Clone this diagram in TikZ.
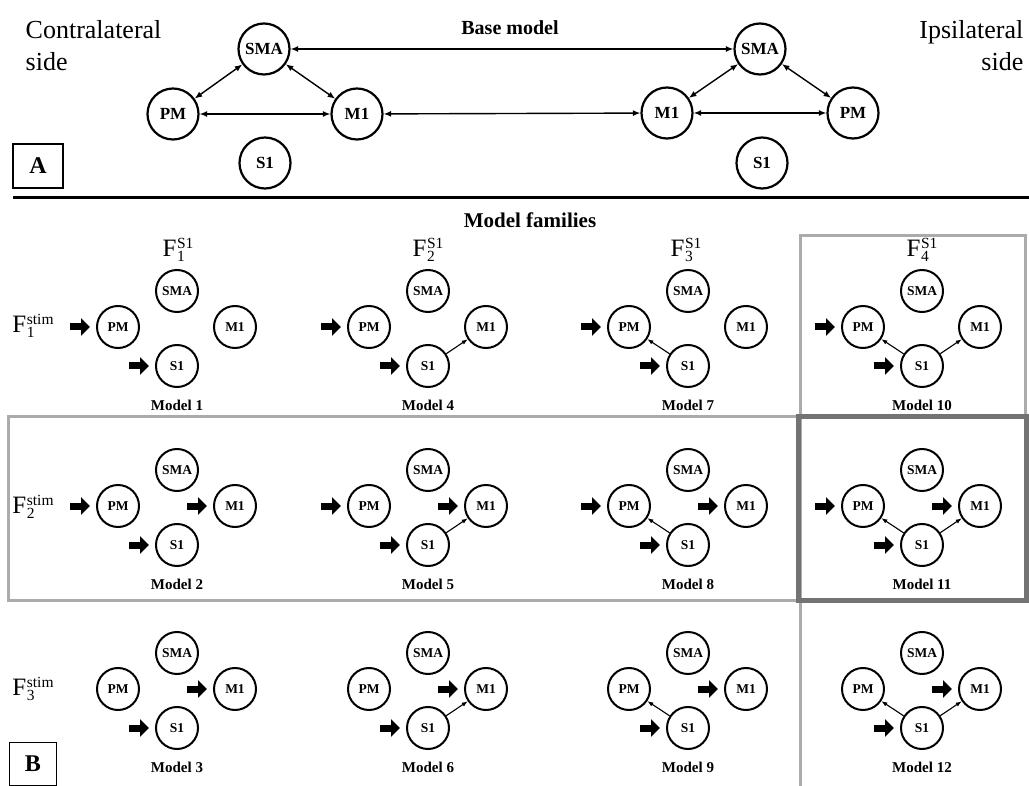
\documentclass[tikz,border=0pt]{standalone}
\usepackage{fontspec}
\setmainfont{Liberation Serif}
\usetikzlibrary{arrows.meta}

\tikzset{every picture/.style={line width=0.75pt}}
\tikzset{
  bigarea/.style={circle,draw,line width=2.2pt,minimum size=51pt,inner sep=0pt,font=\fontsize{17}{19}\selectfont\bfseries},
  smallarea/.style={circle,draw,line width=2pt,minimum size=42pt,inner sep=0pt,font=\fontsize{13.5}{15}\selectfont\bfseries},
  modellabel/.style={font=\fontsize{15}{17}\selectfont\bfseries},
  familylabel/.style={font=\fontsize{25}{27}\selectfont,inner sep=1pt},
  stimarrow/.style={line width=7pt,-{Triangle[length=9pt,width=17pt]}},
  coupling/.style={line width=1.1pt,-{Latex[length=6pt,width=4.5pt]}},
  bigcoupling/.style={line width=1.4pt,{Latex[length=7.5pt,width=6pt]}-{Latex[length=7.5pt,width=6pt]}},
  panelbox/.style={draw,line width=1.2pt,inner sep=0pt,font=\fontsize{24}{26}\selectfont\bfseries},
  lightframe/.style={draw=black!33,line width=3pt},
  darkframe/.style={draw=black!55,line width=5pt},
}

% family name: F with a stacked upper and lower index
\newcommand{\famname}[2]{F\kern0.6pt\raisebox{-5pt}{\fontsize{15.5}{12}\selectfont\shortstack[l]{#2\\#1}}}

% one model: SMA, PM, M1, S1 and its name below
\newcommand{\modelcell}[4]{%
  \node[smallarea] (#1sma) at (#2,#3) {SMA};
  \node[smallarea] (#1pm) at (#2-59,#3+36) {PM};
  \node[smallarea] (#1mone) at (#2+58,#3+36) {M1};
  \node[smallarea] (#1sone) at (#2,#3+75) {S1};
  \node[modellabel] (#1lab) at (#2,#3+114) {#4};
}
\newcommand{\stimto}[1]{\draw[stimarrow] ([xshift=-26pt]#1.west) -- ([xshift=-6pt]#1.west);}

\begin{document}
\begin{tikzpicture}[x=1pt,y=1pt,yscale=-1,xscale=1]
\useasboundingbox (0,0) rectangle (1029,786);

%Frames
\draw[lightframe] (8,417) rectangle (798,600);
\draw[lightframe] (800,786) -- (800,236) -- (1025,236) -- (1025,417);
\draw[darkframe] (798,417) rectangle (1026,600);

% Text Node
\node[anchor=west,align=left,font=\fontsize{26}{32}\selectfont] (contra) at (22,46) {Contralateral\\side};
% Text Node
\node[anchor=east,align=right,font=\fontsize{26}{32}\selectfont] (ipsi) at (1027,46) {Ipsilateral\\side};
% Text Node
\node[font=\fontsize{20}{22}\selectfont\bfseries] (basetitle) at (510,28) {Base model};
\node[panelbox,minimum width=50pt,minimum height=44pt] (panela) at (38,166) {A};

%Base model, contralateral
\node[bigarea] (lsma) at (264,49) {SMA};
\node[bigarea] (lpm) at (173,114) {PM};
\node[bigarea] (lmone) at (357,114) {M1};
\node[bigarea] (lsone) at (265,163) {S1};
%Base model, ipsilateral
\node[bigarea] (rsma) at (760,49) {SMA};
\node[bigarea] (rmone) at (667,113) {M1};
\node[bigarea] (rpm) at (853,113) {PM};
\node[bigarea] (rsone) at (762,163) {S1};

\draw[bigcoupling] (lsma) -- (rsma);
\draw[bigcoupling] (lmone) -- (rmone);
\draw[bigcoupling] (lpm) -- (lmone);
\draw[bigcoupling] (lsma) -- (lpm);
\draw[bigcoupling] (lsma) -- (lmone);
\draw[bigcoupling] (rmone) -- (rpm);
\draw[bigcoupling] (rsma) -- (rmone);
\draw[bigcoupling] (rsma) -- (rpm);

%Straight Lines
\draw[line width=3pt] (13,198) -- (1029,198);

% Text Node
\node[font=\fontsize{21}{23}\selectfont\bfseries] (famtitle) at (530,220) {Model families};
\node[familylabel] (fsone1) at (178,250) {\famname{1}{S1}};
\node[familylabel] (fsone2) at (428,250) {\famname{2}{S1}};
\node[familylabel] (fsone3) at (686,250) {\famname{3}{S1}};
\node[familylabel] (fsone4) at (922,250) {\famname{4}{S1}};
\node[familylabel,anchor=west] (fstim1) at (11,326) {\famname{1}{stim}};
\node[familylabel,anchor=west] (fstim2) at (11,507) {\famname{2}{stim}};
\node[familylabel,anchor=west] (fstim3) at (11,689) {\famname{3}{stim}};
\node[panelbox,minimum width=47pt,minimum height=43pt] (panelb) at (33,764) {B};

%Models
\modelcell{m1}{177}{291}{Model 1}
\modelcell{m2}{177}{470}{Model 2}
\modelcell{m3}{177}{653}{Model 3}
\modelcell{m4}{428}{291}{Model 4}
\modelcell{m5}{428}{470}{Model 5}
\modelcell{m6}{428}{653}{Model 6}
\modelcell{m7}{688}{291}{Model 7}
\modelcell{m8}{688}{470}{Model 8}
\modelcell{m9}{688}{653}{Model 9}
\modelcell{m10}{922}{291}{Model 10}
\modelcell{m11}{922}{470}{Model 11}
\modelcell{m12}{922}{653}{Model 12}

%Inputs
\stimto{m1pm} \stimto{m1sone}
\stimto{m4pm} \stimto{m4sone}
\stimto{m7pm} \stimto{m7sone}
\stimto{m10pm} \stimto{m10sone}
\stimto{m2pm} \stimto{m2sone} \stimto{m2mone}
\stimto{m5pm} \stimto{m5sone} \stimto{m5mone}
\stimto{m8pm} \stimto{m8sone} \stimto{m8mone}
\stimto{m11pm} \stimto{m11sone} \stimto{m11mone}
\stimto{m3sone} \stimto{m3mone}
\stimto{m6sone} \stimto{m6mone}
\stimto{m9sone} \stimto{m9mone}
\stimto{m12sone} \stimto{m12mone}

%S1 connections
\draw[coupling] (m4sone) -- (m4mone);
\draw[coupling] (m5sone) -- (m5mone);
\draw[coupling] (m6sone) -- (m6mone);
\draw[coupling] (m7sone) -- (m7pm);
\draw[coupling] (m8sone) -- (m8pm);
\draw[coupling] (m9sone) -- (m9pm);
\draw[coupling] (m10sone) -- (m10pm);
\draw[coupling] (m10sone) -- (m10mone);
\draw[coupling] (m11sone) -- (m11pm);
\draw[coupling] (m11sone) -- (m11mone);
\draw[coupling] (m12sone) -- (m12pm);
\draw[coupling] (m12sone) -- (m12mone);

\end{tikzpicture}
\end{document}
